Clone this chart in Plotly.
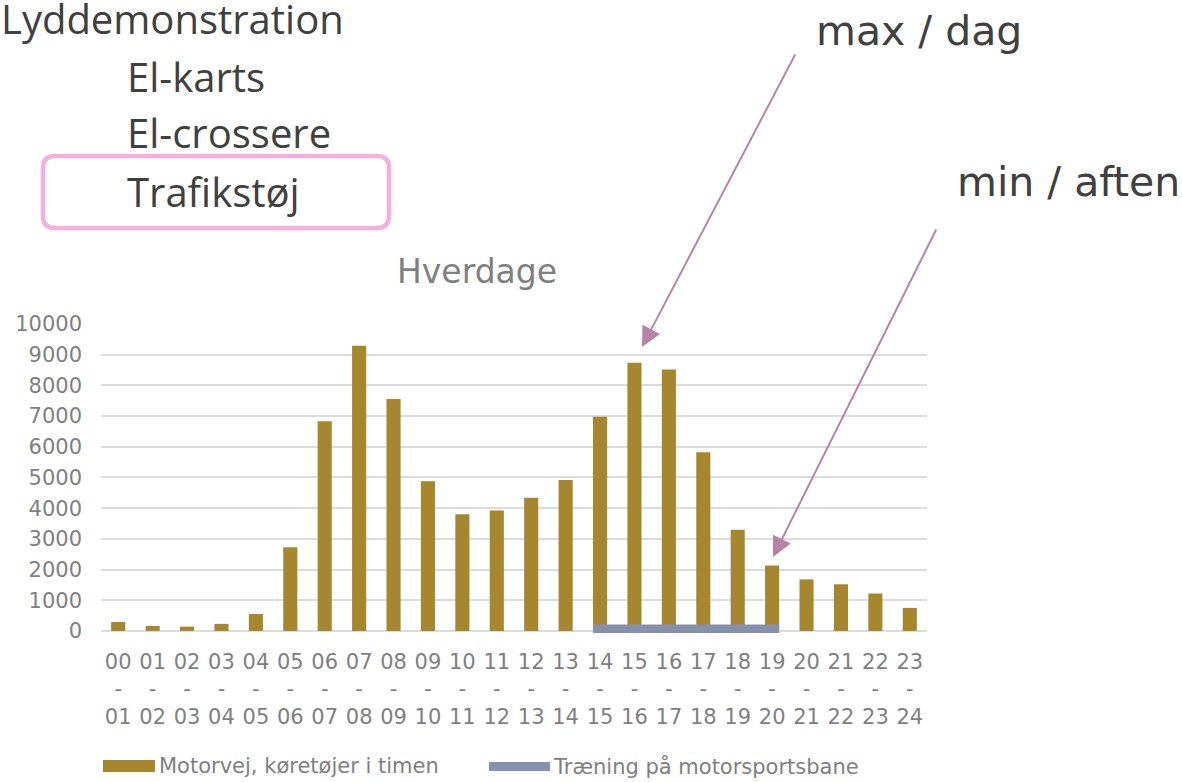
import plotly.graph_objects as go

# ---------------- data ----------------
hour_start = ["00", "01", "02", "03", "04", "05", "06", "07", "08", "09", "10", "11",
              "12", "13", "14", "15", "16", "17", "18", "19", "20", "21", "22", "23"]
hour_end = ["01", "02", "03", "04", "05", "06", "07", "08", "09", "10", "11", "12",
            "13", "14", "15", "16", "17", "18", "19", "20", "21", "22", "23", "24"]
motorvej = [290, 160, 140, 230, 550, 2730, 6830, 9290, 7560, 4880, 3800, 3920,
            4340, 4920, 6980, 8740, 8520, 5820, 3300, 2130, 1680, 1520, 1220, 750]
training_hours = [14, 15, 16, 17, 18, 19]     # 14-15 ... 19-20
training_level = 70

series_names = ["Motorvej, køretøjer i timen", "Træning på motorsportsbane"]
title_text = "Hverdage"
menu_items = ["Lyddemonstration", "El-karts", "El-crossere", "Trafikstøj"]
note_max = "max / dag"
note_min = "min / aften"
y_ticks = list(range(0, 10001, 1000))
y_ticktext = [str(v) for v in y_ticks]

# ---------------- style ----------------
GOLD = "#A6862F"
BLUE = "#8591AC"
GRID = "#DCDCDC"
TXT = "#7F7F7F"
DARK = "#404040"
PINK = "#F2B0DC"
ARROW = "#B784A7"
BAR_W = 0.41

W, H = 1182, 782
L, R, T, B = 101, 255, 324, 148


def px(xp):
    return (xp - L) / (W - L - R)


def py(yp):
    return (H - B - yp) / (H - T - B)


x_idx = list(range(len(hour_start)))
ticktext = [f"{s}<br>-<br>{e}" for s, e in zip(hour_start, hour_end)]

fig = go.Figure()
fig.add_trace(go.Bar(x=x_idx, y=motorvej, width=BAR_W, marker_color=GOLD,
                     marker_line_width=0, name=series_names[0]))
fig.add_trace(go.Scatter(
    x=[training_hours[0] - BAR_W / 2, training_hours[-1] + BAR_W / 2],
    y=[training_level, training_level], mode="lines",
    line=dict(color=BLUE, width=8.4), name=series_names[1]))

fig.update_xaxes(range=[-0.5, len(hour_start) - 0.5], tickvals=x_idx, ticktext=ticktext,
                 showgrid=False, zeroline=False, showline=False, ticks="",
                 tickfont=dict(family="DejaVu Sans", size=21, color=TXT),
                 ticklabelstandoff=13)
fig.update_yaxes(range=[-100, 10000], tickvals=y_ticks, ticktext=y_ticktext,
                 showgrid=True, gridcolor=GRID,
                 gridwidth=1.5, zeroline=True, zerolinecolor=GRID, zerolinewidth=1.5,
                 showline=False, ticks="",
                 tickfont=dict(family="DejaVu Sans", size=21, color=TXT),
                 ticklabelstandoff=18)

annotations = []
# chart title
annotations.append(dict(x=px(477), y=py(271), xref="paper", yref="paper", text=title_text,
                        showarrow=False, xanchor="center", yanchor="middle",
                        font=dict(family="DejaVu Sans", size=33, color=TXT)))
# menu items
annotations.append(dict(x=px(346), y=py(18), xref="paper", yref="paper", text=menu_items[0],
                        showarrow=False, xanchor="right", yanchor="middle",
                        font=dict(family="Open Sans", size=40, color=DARK)))
for item, yc in zip(menu_items[1:], [77, 133, 191]):
    annotations.append(dict(x=px(125), y=py(yc), xref="paper", yref="paper", text=item,
                            showarrow=False, xanchor="left", yanchor="middle",
                            font=dict(family="Open Sans", size=40, color=DARK)))
# notes
annotations.append(dict(x=px(814), y=py(31), xref="paper", yref="paper", text=note_max,
                        showarrow=False, xanchor="left", yanchor="middle",
                        font=dict(family="DejaVu Sans", size=41, color=DARK)))
annotations.append(dict(x=px(955), y=py(182), xref="paper", yref="paper", text=note_min,
                        showarrow=False, xanchor="left", yanchor="middle",
                        font=dict(family="DejaVu Sans", size=41, color=DARK)))
# arrows
for tip, tail in [((642, 347), (796, 53)), ((773, 557), (937, 228))]:
    annotations.append(dict(x=px(tip[0]), y=py(tip[1]), xref="paper", yref="paper",
                            ax=tail[0] - tip[0], ay=tail[1] - tip[1], text="",
                            showarrow=True, arrowhead=2, arrowsize=2.0, arrowwidth=2,
                            arrowcolor=ARROW, standoff=0))
# legend texts
annotations.append(dict(x=px(157), y=py(766), xref="paper", yref="paper", text=series_names[0],
                        showarrow=False, xanchor="left", yanchor="middle",
                        font=dict(family="DejaVu Sans", size=21, color=TXT)))
annotations.append(dict(x=px(551), y=py(766), xref="paper", yref="paper", text=series_names[1],
                        showarrow=False, xanchor="left", yanchor="middle",
                        font=dict(family="DejaVu Sans", size=21, color=TXT)))

shapes = []
# legend swatches
shapes.append(dict(type="rect", xref="paper", yref="paper", x0=px(103), x1=px(155),
                   y0=py(772), y1=py(760), fillcolor=GOLD, line_width=0))
shapes.append(dict(type="rect", xref="paper", yref="paper", x0=px(489), x1=px(550),
                   y0=py(771), y1=py(762), fillcolor=BLUE, line_width=0))

# rounded pink box
bx0, bx1, by0, by1, rr = 43, 389, 156, 228, 12


def P(xp, yp):
    return f"{px(xp):.5f},{py(yp):.5f}"


path = (f"M {P(bx0 + rr, by0)} L {P(bx1 - rr, by0)} Q {P(bx1, by0)} {P(bx1, by0 + rr)} "
        f"L {P(bx1, by1 - rr)} Q {P(bx1, by1)} {P(bx1 - rr, by1)} "
        f"L {P(bx0 + rr, by1)} Q {P(bx0, by1)} {P(bx0, by1 - rr)} "
        f"L {P(bx0, by0 + rr)} Q {P(bx0, by0)} {P(bx0 + rr, by0)} Z")
shapes.append(dict(type="path", xref="paper", yref="paper", path=path,
                   line=dict(color=PINK, width=4.5), fillcolor="rgba(0,0,0,0)"))

fig.update_layout(width=W, height=H, margin=dict(l=L, r=R, t=T, b=B),
                  plot_bgcolor="white", paper_bgcolor="white", showlegend=False,
                  annotations=annotations, shapes=shapes,
                  font=dict(family="DejaVu Sans"))

fig.write_html("out.html", config={"displayModeBar": False},
               post_script="document.body.style.margin='0px';")
